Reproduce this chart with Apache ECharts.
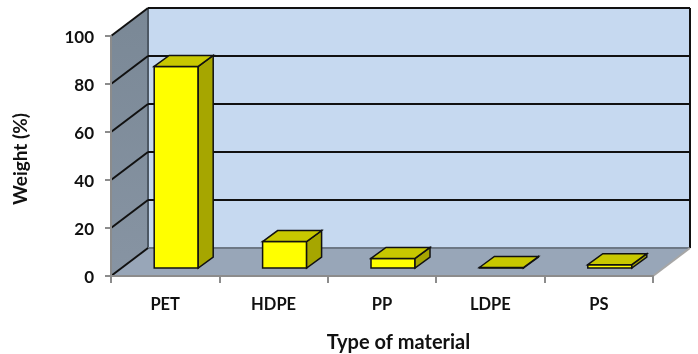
<!DOCTYPE html>
<html>
<head>
<meta charset="utf-8">
<style>
  html, body { margin: 0; padding: 0; background: #fff; }
  #chart { width: 698px; height: 354px; }
</style>
</head>
<body>
<div id="chart"></div>
<script src="https://cdn.jsdelivr.net/npm/echarts@6/dist/echarts.min.js"></script>
<script>
const materials = ['PET', 'HDPE', 'PP', 'LDPE', 'PS'];
const weights = [84, 11, 4, 0.2, 1.4];
const yTicks = [0, 20, 40, 60, 80, 100];

// how far the back wall sits behind the axis plane (px)
const WALL_DX = 37;
const WALL_DY = -28;
// bars stand inside that depth
const BAR_DX = 11;
const BAR_DY = -8;
const BAR_DEPTH_X = 15;
const BAR_DEPTH_Y = -11;
const BAR_W = 44;

function poly(points, fill, stroke, lineWidth) {
  return {
    type: 'polygon',
    shape: { points: points },
    style: { fill: fill, stroke: stroke || null, lineWidth: lineWidth || 0, lineJoin: 'miter' }
  };
}

function line(a, b, stroke, lineWidth) {
  return {
    type: 'line',
    shape: { x1: a[0], y1: a[1], x2: b[0], y2: b[1] },
    style: { stroke: stroke, lineWidth: lineWidth }
  };
}

function renderWalls(params, api) {
  const band = api.size([1, 0])[0];
  const x0 = api.coord([0, 0])[0] - band / 2;
  const x1 = api.coord([materials.length - 1, 0])[0] + band / 2;
  const y0 = api.coord([0, 0])[1];
  const y1 = api.coord([0, 100])[1];
  const dx = WALL_DX, dy = WALL_DY;
  return {
    type: 'group',
    children: [
      poly([[x0 + dx, y0 + dy], [x1 + dx, y0 + dy], [x1 + dx, y1 + dy], [x0 + dx, y1 + dy]], '#c6d9f0'),
      {
        type: 'polygon',
        shape: { points: [[x0, y0], [x0 + dx, y0 + dy], [x0 + dx, y1 + dy], [x0, y1]] },
        style: {
          fill: new echarts.graphic.LinearGradient(0, 0, 0, 1, [
            { offset: 0, color: '#7a8896' },
            { offset: 1, color: '#8794a3' }
          ])
        }
      },
      poly([[x0, y0], [x1, y0], [x1 + dx, y0 + dy], [x0 + dx, y0 + dy]], '#98a6b8'),
      line([x0 + dx, y0 + dy], [x0 + dx, y1 + dy], '#4d5864', 2),
      line([x0 + dx, y0 + dy], [x1 + dx, y0 + dy], '#6d7885', 2),
      line([x1 + dx, y0 + dy], [x1 + dx, y1 + dy], '#111', 2),
      line([x1, y0], [x1 + dx, y0 + dy], '#a6a6a6', 2)
    ]
  };
}

function renderGridLine(params, api) {
  const band = api.size([1, 0])[0];
  const v = api.value(0);
  const y = api.coord([0, v])[1];
  const x0 = api.coord([0, 0])[0] - band / 2;
  const x1 = api.coord([materials.length - 1, 0])[0] + band / 2;
  const children = [line([x0, y], [x0 + WALL_DX, y + WALL_DY], '#111', 2)];
  if (v > 0) {
    children.push(line([x0 + WALL_DX, y + WALL_DY], [x1 + WALL_DX, y + WALL_DY], '#111', 2));
  }
  return { type: 'group', children: children };
}

function renderBar(params, api) {
  const idx = api.value(0);
  const base = api.coord([idx, 0]);
  const top = api.coord([idx, api.value(1)]);
  const l = base[0] + BAR_DX - BAR_W / 2;
  const r = l + BAR_W;
  const b = base[1] + BAR_DY;
  const t = top[1] + BAR_DY;
  const dx = BAR_DEPTH_X, dy = BAR_DEPTH_Y;
  return {
    type: 'group',
    children: [
      poly([[l, t], [r, t], [r, b], [l, b]], '#ffff00', '#111', 1.5),
      poly([[r, t], [r + dx, t + dy], [r + dx, b + dy], [r, b]], '#a6a600', '#111', 1.5),
      poly([[l, t], [l + dx, t + dy], [r + dx, t + dy], [r, t]], '#c8c800', '#111', 1.5)
    ]
  };
}

const chart = echarts.init(document.getElementById('chart'));
const font = 'Lato';

chart.setOption({
  animation: false,
  backgroundColor: '#fff',
  grid: { left: 111, right: 45, top: 36, height: 240, outerBoundsMode: 'none' },
  xAxis: {
    type: 'category',
    data: materials,
    z: 10,
    name: 'Type of material',
    nameLocation: 'middle',
    nameGap: 57,
    nameTextStyle: { fontFamily: font, fontWeight: 'bold', fontSize: 20, color: '#111', padding: [0, 0, 0, 33] },
    axisLine: { show: true, lineStyle: { color: '#8c8c8c', width: 2 } },
    axisTick: { show: true, length: 7, lineStyle: { color: '#8c8c8c', width: 2 } },
    axisLabel: { margin: 20, fontFamily: font, fontWeight: 'bold', fontSize: 16.5, color: '#111' },
    splitLine: { show: false }
  },
  yAxis: {
    type: 'value',
    min: 0,
    max: 100,
    interval: 20,
    z: 10,
    name: 'Weight (%)',
    nameLocation: 'middle',
    nameGap: 81,
    nameTextStyle: { fontFamily: font, fontWeight: 'bold', fontSize: 19, color: '#111', padding: [0, 6, 0, 0] },
    axisLine: { show: true, lineStyle: { color: '#8c8c8c', width: 2 } },
    axisTick: { show: true, length: 6, lineStyle: { color: '#8c8c8c', width: 2 } },
    // top aligned with a small line box drops the digits a little below the tick
    axisLabel: { margin: 17, fontFamily: font, fontWeight: 'bold', fontSize: 17, color: '#111', verticalAlign: 'top', lineHeight: 4 },
    splitLine: { show: false }
  },
  series: [
    { type: 'custom', z: 1, silent: true, renderItem: renderWalls, data: [0], encode: { x: -1, y: -1 } },
    { type: 'custom', z: 2, silent: true, renderItem: renderGridLine, data: yTicks.map(v => [v]), encode: { x: -1, y: -1 } },
    {
      type: 'custom',
      z: 3,
      renderItem: renderBar,
      data: weights.map((w, i) => [i, w]),
      encode: { x: 0, y: 1 }
    }
  ]
});
</script>
</body>
</html>
